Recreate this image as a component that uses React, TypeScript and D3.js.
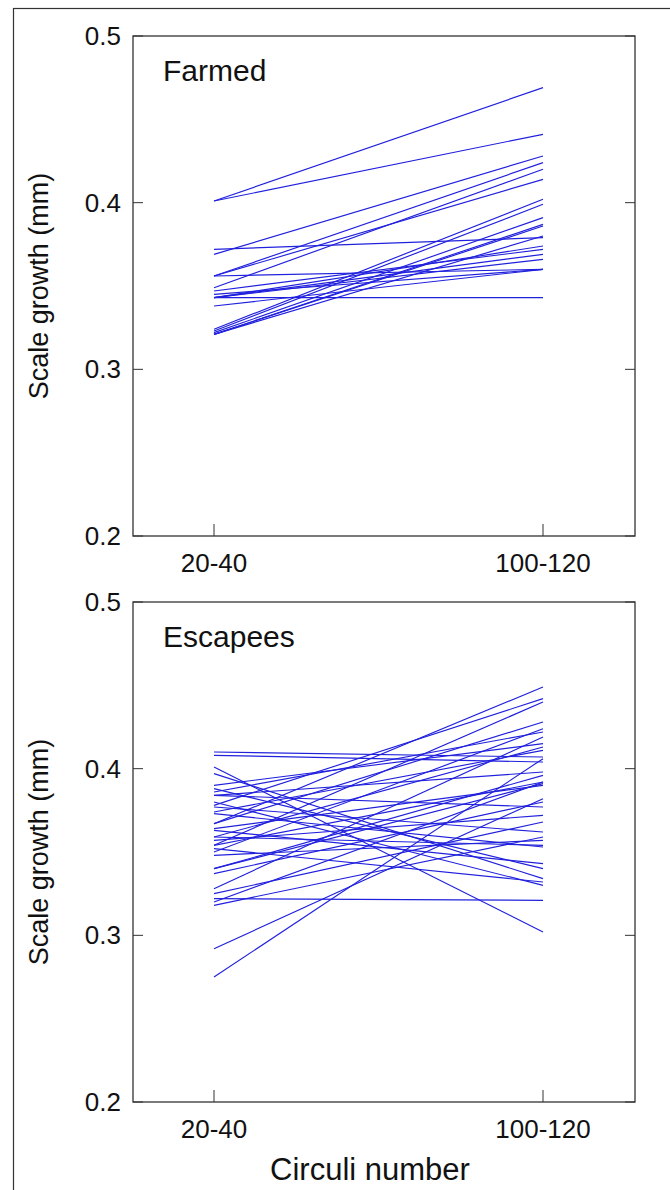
import { useEffect, useRef } from "react";
import * as d3 from "d3";

// circuli groups on the x axis
const categories = ["20-40", "100-120"];
const yTicks = [0.2, 0.3, 0.4, 0.5];

// Farmed fish: scale growth at circuli 20-40 and 100-120
const farmedStart = [
  0.401, 0.401, 0.372, 0.369, 0.356, 0.356, 0.356, 0.349, 0.347, 0.343, 0.343,
  0.343, 0.343, 0.338, 0.324, 0.323, 0.322, 0.321, 0.321, 0.321, 0.345,
];
const farmedEnd = [
  0.469, 0.441, 0.379, 0.428, 0.424, 0.414, 0.36, 0.42, 0.372, 0.343, 0.369,
  0.366, 0.374, 0.36, 0.402, 0.399, 0.391, 0.387, 0.386, 0.38, 0.36,
];

// Escapees
const escStart = [
  0.41, 0.408, 0.401, 0.397, 0.39, 0.388, 0.386, 0.384, 0.38, 0.378, 0.377,
  0.374, 0.373, 0.367, 0.364, 0.363, 0.359, 0.357, 0.354, 0.352, 0.35, 0.348,
  0.34, 0.337, 0.328, 0.325, 0.322, 0.32, 0.318, 0.292, 0.275, 0.367, 0.354,
  0.384, 0.359, 0.34,
];
const escEnd = [
  0.407, 0.404, 0.302, 0.334, 0.415, 0.34, 0.422, 0.398, 0.33, 0.442, 0.362,
  0.411, 0.353, 0.428, 0.39, 0.343, 0.413, 0.372, 0.392, 0.332, 0.424, 0.357,
  0.396, 0.38, 0.419, 0.368, 0.321, 0.392, 0.359, 0.382, 0.406, 0.449, 0.44,
  0.377, 0.354, 0.391,
];

const panels = [
  { name: "Farmed", start: farmedStart, end: farmedEnd, top: 36 },
  { name: "Escapees", start: escStart, end: escEnd, top: 602 },
];

const W = 670;
const H = 1190;
const left = 133;
const right = 635;
const plotH = 500;
const font = "'Liberation Sans', Arial, sans-serif";
const ink = "#333";

const App = () => {
  const ref = useRef<SVGSVGElement>(null);

  useEffect(() => {
    const svg = d3.select(ref.current);
    svg.selectAll("*").remove();

    // outer frame
    svg
      .append("rect")
      .attr("x", 13.5)
      .attr("y", 8.5)
      .attr("width", 700)
      .attr("height", 1300)
      .attr("fill", "none")
      .attr("stroke", ink)
      .attr("stroke-width", 1.2);

    const x = d3.scalePoint().domain(categories).range([214, 543]);

    panels.forEach((p) => {
      const y = d3
        .scaleLinear()
        .domain([0.2, 0.5])
        .range([p.top + plotH, p.top]);
      const g = svg.append("g");

      // lines
      g.append("g")
        .selectAll("line")
        .data(p.start.map((s, i) => [s, p.end[i]]))
        .join("line")
        .attr("x1", x(categories[0])!)
        .attr("x2", x(categories[1])!)
        .attr("y1", (d) => y(d[0]))
        .attr("y2", (d) => y(d[1]))
        .attr("stroke", "#2020dd")
        .attr("stroke-width", 1.15);

      // box
      g.append("rect")
        .attr("x", left)
        .attr("y", p.top)
        .attr("width", right - left)
        .attr("height", plotH)
        .attr("fill", "none")
        .attr("stroke", ink)
        .attr("stroke-width", 1.3);

      // y ticks (inward, both sides) and labels
      g.selectAll(".yt")
        .data(yTicks)
        .join("g")
        .each(function (d) {
          const t = d3.select(this);
          t.append("line")
            .attr("x1", left)
            .attr("x2", left + 10)
            .attr("y1", y(d))
            .attr("y2", y(d))
            .attr("stroke", ink);
          t.append("line")
            .attr("x1", right - 10)
            .attr("x2", right)
            .attr("y1", y(d))
            .attr("y2", y(d))
            .attr("stroke", ink);
          t.append("text")
            .attr("x", 121)
            .attr("y", y(d) + 9)
            .attr("text-anchor", "end")
            .attr("font-size", 26)
            .attr("font-family", font)
            .attr("fill", "#111")
            .text(d3.format(".1f")(d));
        });

      // x ticks and labels
      g.selectAll(".xt")
        .data(categories)
        .join("g")
        .each(function (c) {
          const t = d3.select(this);
          t.append("line")
            .attr("x1", x(c)!)
            .attr("x2", x(c)!)
            .attr("y1", p.top + plotH)
            .attr("y2", p.top + plotH - 12)
            .attr("stroke", ink);
          t.append("text")
            .attr("x", x(c)!)
            .attr("y", p.top + plotH + 36)
            .attr("text-anchor", "middle")
            .attr("font-size", 26)
            .attr("font-family", font)
            .attr("fill", "#111")
            .text(c);
        });

      // panel name
      g.append("text")
        .attr("x", 163)
        .attr("y", p.top + 45)
        .attr("font-size", 30)
        .attr("font-family", font)
        .attr("fill", "#111")
        .text(p.name);

      // y axis title
      g.append("text")
        .attr("transform", `translate(48,${p.top + plotH / 2}) rotate(-90)`)
        .attr("text-anchor", "middle")
        .attr("font-size", 27)
        .attr("font-family", font)
        .attr("fill", "#111")
        .text("Scale growth (mm)");
    });

    svg
      .append("text")
      .attr("x", 370)
      .attr("y", 1180)
      .attr("text-anchor", "middle")
      .attr("font-size", 31)
      .attr("font-family", font)
      .attr("fill", "#111")
      .text("Circuli number");
  }, []);

  return (
    <svg
      ref={ref}
      width={W}
      height={H}
      style={{ position: "absolute", left: 0, top: 0, background: "#fff" }}
    />
  );
};

export default App;
